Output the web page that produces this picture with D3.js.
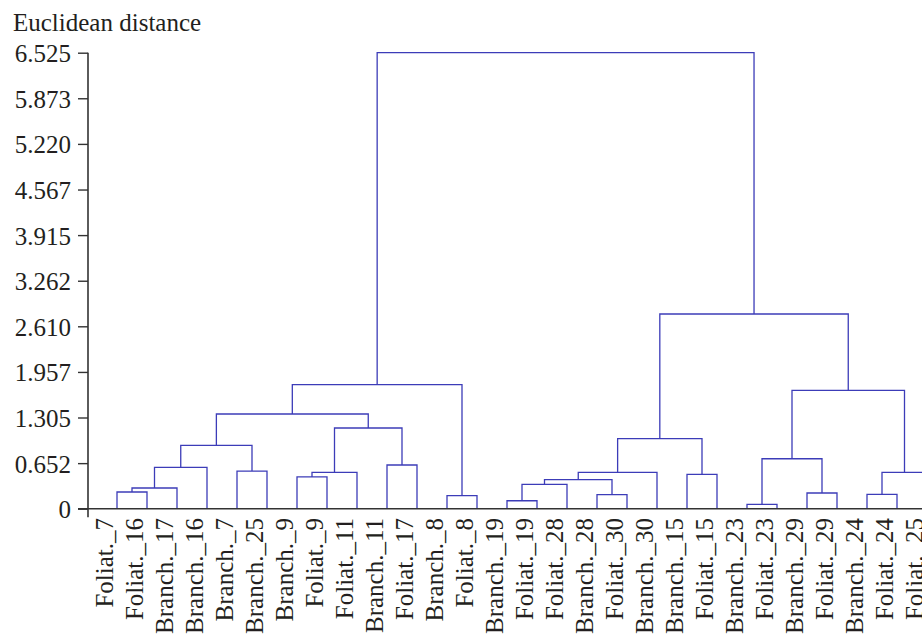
<!DOCTYPE html>
<html>
<head>
<meta charset="utf-8">
<script src="https://cdn.jsdelivr.net/npm/d3@7/dist/d3.min.js"></script>
<style>
  html, body { margin: 0; padding: 0; background: #fff; }
  svg { display: block; }
  text { font-family: "Liberation Serif", "DejaVu Serif", serif; fill: #231f20; }
</style>
</head>
<body>
<svg id="chart" width="922" height="640"></svg>
<script>
// ---- data ----
const leaves = [
  "Foliat._7", "Foliat._16", "Branch._17", "Branch._16", "Branch._7", "Branch._25",
  "Branch._9", "Foliat._9", "Foliat._11", "Branch._11", "Foliat._17", "Branch._8",
  "Foliat._8", "Branch._19", "Foliat._19", "Foliat._28", "Branch._28", "Foliat._30",
  "Branch._30", "Branch._15", "Foliat._15", "Branch._23", "Foliat._23", "Branch._29",
  "Foliat._29", "Branch._24", "Foliat._24", "Foliat._25"
];
// linkage: [childA, childB, height]; indices < 28 are leaves, >= 28 refer to earlier merges (28 + row)
const linkA = [21, 13, 11, 16, 25, 23, 0, 34, 29, 36, 6, 19, 37, 38, 32, 4, 35, 9, 28, 44, 40, 41, 47, 46, 50, 48, 52];
const linkB = [22, 14, 12, 17, 26, 24, 1, 2, 15, 31, 7, 20, 18, 8, 27, 5, 3, 10, 33, 43, 39, 45, 49, 42, 30, 51, 53];
const linkH = [0.063, 0.114, 0.186, 0.200, 0.206, 0.225, 0.239, 0.296, 0.349, 0.415, 0.454, 0.492, 0.521, 0.521,
               0.521, 0.539, 0.592, 0.625, 0.715, 0.907, 1.002, 1.155, 1.355, 1.694, 1.774, 2.786, 6.525];
const yTicks = [0, 0.652, 1.305, 1.957, 2.610, 3.262, 3.915, 4.567, 5.220, 5.873, 6.525];
const yTickLabels = ["0", "0.652", "1.305", "1.957", "2.610", "3.262", "3.915", "4.567", "5.220", "5.873", "6.525"];
const yTitle = "Euclidean distance";

// ---- layout ----
const svg = d3.select("#chart");
const axisX = 88, baseY = 508.7, topY = 52.7;
const x = d3.scalePoint().domain(leaves).range([117, 927]).padding(0);
const y = d3.scaleLinear().domain([0, 6.525]).range([baseY, topY]);

const n = leaves.length;
const nodeX = [], nodeH = [];
leaves.forEach((l, i) => { nodeX[i] = x(l); nodeH[i] = 0; });
const links = [];
linkA.forEach((a, k) => {
  const b = linkB[k], h = linkH[k], id = n + k;
  nodeX[id] = (nodeX[a] + nodeX[b]) / 2;
  nodeH[id] = h;
  links.push({a, b, h});
});

const lineColor = "#3c3cb8";
const g = svg.append("g");
links.forEach(d => {
  const xa = nodeX[d.a], xb = nodeX[d.b];
  const path = d3.path();
  path.moveTo(xa, y(nodeH[d.a]));
  path.lineTo(xa, y(d.h));
  path.lineTo(xb, y(d.h));
  path.lineTo(xb, y(nodeH[d.b]));
  g.append("path").attr("d", path.toString())
    .attr("fill", "none").attr("stroke", lineColor).attr("stroke-width", 1.3);
});

// x baseline
svg.append("line").attr("x1", 78).attr("x2", 922).attr("y1", y(0)).attr("y2", y(0))
  .attr("stroke", "#333").attr("stroke-width", 1.6);

// y axis
const yAxis = d3.axisLeft(y).tickValues(yTicks).tickSize(10).tickSizeOuter(0)
  .tickFormat((d, i) => yTickLabels[i]);
const ya = svg.append("g").attr("transform", `translate(${axisX},0)`).call(yAxis);
ya.select(".domain").remove();
ya.selectAll(".tick line").attr("stroke", "#333").attr("stroke-width", 1.4);
ya.selectAll(".tick text").attr("x", -17).attr("dy", "0.36em")
  .style("font-family", '"Liberation Serif", serif').style("font-size", "25px").attr("fill", "#231f20");
ya.append("line").attr("x1", 0).attr("x2", 0).attr("y1", topY).attr("y2", baseY + 8.5)
  .attr("stroke", "#333").attr("stroke-width", 1.6);

// leaf labels
svg.append("g").selectAll("text").data(leaves).join("text")
  .attr("transform", d => `translate(${x(d) - 4},518) rotate(-90)`)
  .attr("text-anchor", "end")
  .style("font-size", "25px")
  .text(d => d);

// title
svg.append("text").attr("x", 13).attr("y", 31).style("font-size", "25px").text(yTitle);
</script>
</body>
</html>
